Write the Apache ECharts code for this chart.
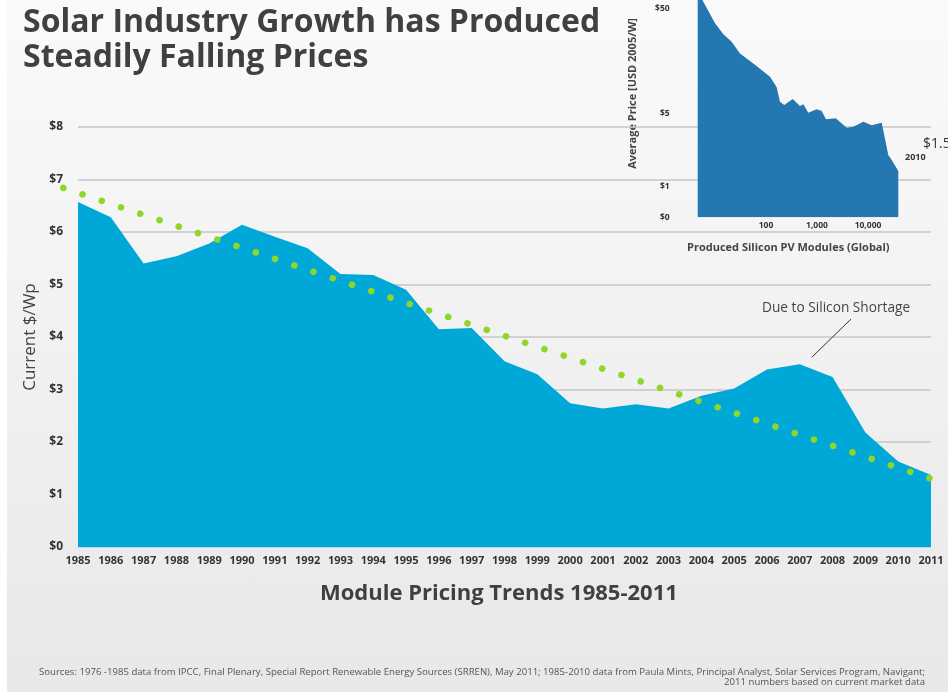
<!DOCTYPE html>
<html>
<head>
<meta charset="utf-8">
<script src="https://cdn.jsdelivr.net/npm/echarts@6/dist/echarts.min.js"></script>
<style>
html,body{margin:0;padding:0;background:#fff;}
#c{width:948px;height:692px;background:linear-gradient(to right,#ffffff 7px,rgba(0,0,0,0) 7px),linear-gradient(to bottom,#fafafa 0%,#f3f3f3 40%,#e8e8e8 100%);}
</style>
</head>
<body>
<div id="c"></div>
<script>
// Main chart: module pricing 1985-2011 (current $/Wp)
const years = [1985,1986,1987,1988,1989,1990,1991,1992,1993,1994,1995,1996,1997,1998,1999,2000,2001,2002,2003,2004,2005,2006,2007,2008,2009,2010,2011];
const prices = [6.57,6.28,5.40,5.54,5.78,6.14,5.91,5.69,5.20,5.18,4.90,4.15,4.17,3.54,3.29,2.74,2.64,2.72,2.64,2.88,3.02,3.38,3.48,3.24,2.18,1.63,1.37];
// Dotted trend line endpoints [year, $/Wp]
const trendYears = [1984.55, 2011];
const trendValues = [6.84, 1.30];
const yTicks = [0,1,2,3,4,5,6,7,8];
// Annotation leader line endpoints [year, $/Wp]
const noteYears = [2007.36, 2008.56];
const noteValues = [3.61, 4.34];

// Inset: learning curve (cumulative MW vs price USD 2005/W)
const insetMW = [4.58,5.90,10.0,14.6,21.2,30.9,56.4,120,162,188,228,334,464,539,675,986,1236,1501,2328,3822,5152,8091,11830,18580,25000,29170,39270];
const insetPrice = [75,58.2,36.2,28.5,24.2,18.7,15.0,11.2,8.88,6.47,6.02,6.87,5.89,6.11,5.08,5.48,5.28,4.40,4.50,3.66,3.74,4.17,3.85,4.08,2.01,1.80,1.41];
const insetYTicks = [0.511,1,5,50];
const insetXTicks = [100,1000,10000];

const FONT = "'Open Sans', 'Noto Sans', sans-serif";
const chart = echarts.init(document.getElementById('c'), null, {renderer:'canvas'});

const mainData = years.map((y,i)=>[y, prices[i]]);
const trendData = trendYears.map((y,i)=>[y, trendValues[i]]);
const insetData = insetMW.map((m,i)=>[m, insetPrice[i]]);

// pixel width of one year on the main grid, used to align the trend grid with the main grid
const mainLeft = 78, mainRight = 17;
const yearPx = (948 - mainLeft - mainRight) / (years[years.length-1] - years[0]);
const trendLeft = mainLeft - (years[0] - trendYears[0]) * yearPx;

chart.setOption({
  animation:false,
  backgroundColor:'transparent',
  textStyle:{fontFamily:FONT},
  title:[
    {text:'Solar Industry Growth has Produced\nSteadily Falling Prices', left:18, top:0,
      textStyle:{fontFamily:FONT, fontSize:32, fontWeight:'bold', color:'#404040', lineHeight:35}},
    {text:'Module Pricing Trends 1985-2011', left:315, top:578,
      textStyle:{fontFamily:FONT, fontSize:22, fontWeight:'bold', color:'#404040'}},
    {text:'Due to Silicon Shortage', left:757, top:296,
      textStyle:{fontFamily:FONT, fontSize:13.7, fontWeight:'normal', color:'#444'}},
    {text:'Sources: 1976 -1985 data from IPCC, Final Plenary, Special Report Renewable Energy Sources (SRREN), May 2011; 1985-2010 data from Paula Mints, Principal Analyst, Solar Services Program, Navigant;',
      right:18, top:662, textStyle:{fontFamily:FONT, fontSize:9.6, fontWeight:'normal', color:'#555'}},
    {text:'2011 numbers based on current market data',
      right:18, top:672, textStyle:{fontFamily:FONT, fontSize:9.6, fontWeight:'normal', color:'#555'}},
    {text:'Produced Silicon PV Modules (Global)', left:682, top:237,
      textStyle:{fontFamily:FONT, fontSize:11, fontWeight:'bold', color:'#444'}},
    {text:'2010', left:900, top:148,
      textStyle:{fontFamily:FONT, fontSize:9, fontWeight:'bold', color:'#333'}},
    {text:'$1.50', left:918, top:132,
      textStyle:{fontFamily:FONT, fontSize:14, fontWeight:'normal', color:'#333'}}
  ],
  graphic:[
    {type:'text', left:627, top:18, rotation:Math.PI/2,
      style:{text:'Average Price [USD 2005/W]', font:"bold 11px 'Open Sans', sans-serif", fill:'#444'}}
  ],
  grid:[
    {left:mainLeft, right:mainRight, top:127, bottom:145},
    {left:697.7, right:49.7, top:0, bottom:474.7},
    {left:trendLeft, right:mainRight, top:127, bottom:145}
  ],
  xAxis:[
    {type:'value', gridIndex:0, min:1985, max:2011, interval:1,
      axisLine:{show:false}, axisTick:{show:false}, splitLine:{show:false},
      axisLabel:{margin:8, fontFamily:FONT, fontSize:11, fontWeight:'bold', color:'#333', formatter:v=>String(v)}},
    {type:'log', gridIndex:1, logBase:10, min:insetMW[0], max:insetMW[insetMW.length-1],
      axisLine:{show:false}, axisTick:{show:false}, splitLine:{show:false},
      axisLabel:{margin:4, fontFamily:FONT, fontSize:8.5, fontWeight:'bold', color:'#333',
        customValues:insetXTicks, formatter:v=>Math.round(v).toLocaleString('en-US')}},
    {type:'value', gridIndex:2, min:trendYears[0], max:trendYears[1], show:false}
  ],
  yAxis:[
    {type:'value', gridIndex:0, min:0, max:8, interval:1,
      axisLine:{show:false}, axisTick:{show:false},
      splitLine:{show:true, lineStyle:{color:'#c6c6c6', width:1.5}},
      axisLabel:{margin:15, fontFamily:FONT, fontSize:12, fontWeight:'bold', color:'#333', formatter:v=>'$'+v},
      name:'Current $/Wp', nameLocation:'middle', nameRotate:90, nameGap:37,
      nameTextStyle:{fontFamily:FONT, fontSize:17, color:'#444'}},
    {type:'log', gridIndex:1, logBase:10, min:0.511, max:60.4,
      axisLine:{show:false}, axisTick:{show:false}, splitLine:{show:false},
      axisLabel:{margin:28, fontFamily:FONT, fontSize:8.5, fontWeight:'bold', color:'#333',
        customValues:insetYTicks, formatter:v=> v<0.9 ? '$0' : '$'+Math.round(v)}},
    {type:'value', gridIndex:2, min:0, max:8, show:false}
  ],
  series:[
    {type:'line', name:'Module price', xAxisIndex:0, yAxisIndex:0, data:mainData,
      showSymbol:false, symbol:'none', lineStyle:{width:0}, z:2, silent:true,
      areaStyle:{color:'#00a8d8', opacity:1},
      markLine:{silent:true, symbol:'none', label:{show:false},
        lineStyle:{color:'#333', width:1, type:'solid'},
        data:[[{coord:[noteYears[0], noteValues[0]]},{coord:[noteYears[1], noteValues[1]]}]]}},
    {type:'line', name:'Trend', xAxisIndex:2, yAxisIndex:2, data:trendData,
      showSymbol:false, symbol:'none', clip:false, z:3, silent:true,
      lineStyle:{color:'#8ed62a', width:6.5, cap:'round', type:[0.1, 20.2]}},
    {type:'line', name:'Learning curve', xAxisIndex:1, yAxisIndex:1, data:insetData,
      showSymbol:false, symbol:'none', lineStyle:{width:0}, z:2, silent:true, clip:true,
      areaStyle:{color:'#2577b1', opacity:1, origin:'start'}}
  ]
});
</script>
</body>
</html>
